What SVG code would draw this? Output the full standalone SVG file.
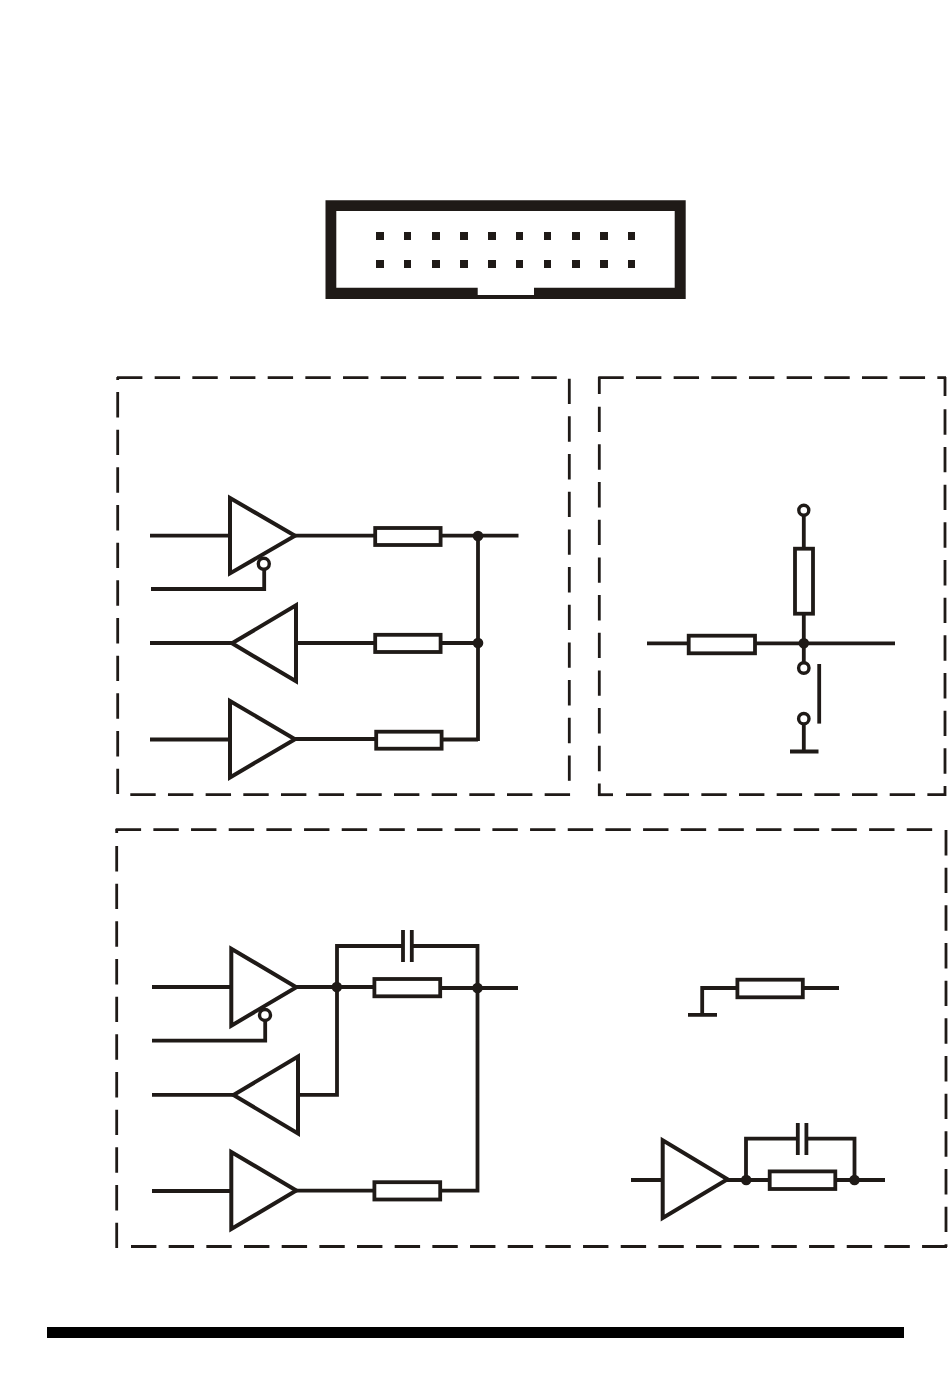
<svg xmlns="http://www.w3.org/2000/svg" width="950" height="1393" viewBox="0 0 950 1393">
<style>
.w{fill:none;stroke:#1f1a17;stroke-width:3.8;stroke-linejoin:miter}
.g{fill:#fff;stroke:#1f1a17;stroke-width:4;stroke-linejoin:miter;stroke-miterlimit:6}
.r{fill:#fff;stroke:#1f1a17;stroke-width:3.8}
.o{fill:#fff;stroke:#1f1a17;stroke-width:3.4}
.d{fill:#1f1a17}
.p{fill:#1f1a17}
.b{fill:none;stroke:#1f1a17;stroke-width:2.8;stroke-dasharray:25.4 12.27}
.c{fill:none;stroke:#1f1a17;stroke-width:2.8}
</style>
<rect width="950" height="1393" fill="#fff"/>

<g id="header-connector">
<path class="d" fill-rule="evenodd" d="M325.5 200.3H685.7V299H325.5ZM336.3 211V287.7H477.7V295H534V287.7H674.7V211Z"/>
<g class="p">
<rect x="376" y="232" width="8" height="8"/><rect x="404" y="232" width="7" height="8"/><rect x="432" y="232" width="8" height="8"/><rect x="460" y="232" width="8" height="8"/><rect x="488" y="232" width="8" height="8"/><rect x="516" y="232" width="7" height="8"/><rect x="544" y="232" width="7" height="8"/><rect x="572" y="232" width="8" height="8"/><rect x="600" y="232" width="8" height="8"/><rect x="628" y="232" width="7" height="8"/>
<rect x="376" y="260" width="8" height="8"/><rect x="404" y="260" width="7" height="8"/><rect x="432" y="260" width="8" height="8"/><rect x="460" y="260" width="8" height="8"/><rect x="488" y="260" width="8" height="8"/><rect x="516" y="260" width="7" height="8"/><rect x="544" y="260" width="7" height="8"/><rect x="572" y="260" width="8" height="8"/><rect x="600" y="260" width="8" height="8"/><rect x="628" y="260" width="7" height="8"/>
</g>
</g>

<g id="box-top-left">
<path class="b" d="M117 377.7H558.5"/>
<path class="b" d="M117.7 392V795"/>
<path class="c" d="M117.7 377V380"/>
<path class="b" d="M569.3 378.7V781"/>
<path class="b" d="M130.3 794.7H571"/>
</g>
<g id="box-top-right">
<path class="b" d="M598.3 377.7H946"/>
<path class="c" d="M599.3 377V394"/>
<path class="b" d="M599.3 406.7V796"/>
<path class="c" d="M945 377V396"/>
<path class="b" d="M945 409.3V796"/>
<path class="c" d="M598 794.7H613"/>
<path class="b" d="M626 794.7H946"/>
</g>
<g id="box-bottom">
<path class="b" d="M115.7 829.7H935"/>
<path class="c" d="M116.7 829V833"/>
<path class="b" d="M116.7 846V1248"/>
<path class="b" d="M946 830V1247"/>
<path class="b" d="M131 1246.5H947"/>
</g>

<g id="connectors">
<path class="w" d="M150 535.7H231M292 535.7H518.5M151 589H264.2V568M150 643H234M295 643H478M150 739.5H231M292 739H377M441 739.5H478M478 536V741"/>
<path class="w" d="M803.8 515V640M647 643.3H895M803.8 645V663M803.8 723V751M790 751.5H818.5"/>
<path class="w" d="M819.2 664V723.6"/>
<path class="w" d="M152 987H232M293 987H375M441 988H518M152 1040.7H265.2V1020M152 1094.8H234M296 1094.8H337V946H403.5M411.5 946H477.5V1190.7H441M152 1191H232M293 1190.7H376"/>
<path class="w" d="M403 930V962M411.8 930V962"/>
<path class="w" d="M839 988H702.2V1015M688 1014.8H717"/>
<path class="w" d="M631 1180H664M725 1180H885M746 1180V1138.7H798M806 1138.7H854.5V1180"/>
<path class="w" d="M797.8 1123V1155M806.4 1123V1155"/>
</g>

<g id="u1-tristate"><polygon class="g" points="230,498 230,573.4 295,535.7"/><circle class="o" cx="263.8" cy="563.8" r="5.5"/></g>
<g id="u1-receiver"><polygon class="g" points="296,605.3 296,681.3 232,643.3"/></g>
<g id="u1-driver"><polygon class="g" points="230,701 230,777.4 295,739.2"/></g>
<g id="r1"><rect class="r" x="375.2" y="528" width="65.4" height="17"/></g>
<g id="r2"><rect class="r" x="375.2" y="634.8" width="65.4" height="17.2"/></g>
<g id="r3"><rect class="r" x="376.2" y="731.7" width="65.4" height="17"/></g>
<g id="j1"><circle class="d" cx="478" cy="536" r="5.3"/></g>
<g id="j2"><circle class="d" cx="478" cy="643" r="5.3"/></g>

<g id="r4"><rect class="r" x="795" y="548.7" width="18" height="65"/></g>
<g id="r5"><rect class="r" x="688.7" y="635.7" width="66.3" height="17.6"/></g>
<g id="j3"><circle class="d" cx="803.8" cy="643.3" r="5.3"/></g>
<g id="vcc-pad"><circle class="o" cx="803.8" cy="510.3" r="5"/></g>
<g id="switch-a"><circle class="o" cx="803.8" cy="668" r="5.2"/></g>
<g id="switch-b"><circle class="o" cx="803.8" cy="718.7" r="5.2"/></g>

<g id="u2-tristate"><polygon class="g" points="231.3,948.7 231.3,1025.7 296.3,987.2"/><circle class="o" cx="265" cy="1015" r="5.5"/></g>
<g id="u2-receiver"><polygon class="g" points="298,1056.5 298,1133.5 233.5,1095"/></g>
<g id="u2-driver"><polygon class="g" points="231.3,1152 231.3,1229 296.3,1190.5"/></g>
<g id="r6"><rect class="r" x="374.4" y="979" width="65.8" height="17.3"/></g>
<g id="r7"><rect class="r" x="374.4" y="1182.2" width="65.8" height="17.3"/></g>
<g id="j4"><circle class="d" cx="336.8" cy="987" r="5.3"/></g>
<g id="j5"><circle class="d" cx="477.5" cy="988" r="5.3"/></g>

<g id="r8"><rect class="r" x="737.4" y="979.7" width="65.4" height="17.6"/></g>
<g id="u3"><polygon class="g" points="662.7,1140.4 662.7,1218 727.5,1179.2"/></g>
<g id="r9"><rect class="r" x="769.7" y="1171.4" width="65.6" height="17.6"/></g>
<g id="j6"><circle class="d" cx="746.2" cy="1180" r="5.3"/></g>
<g id="j7"><circle class="d" cx="854.5" cy="1180" r="5.3"/></g>

<rect id="bottom-rule" x="47" y="1327" width="857" height="11" fill="#000"/>
</svg>
